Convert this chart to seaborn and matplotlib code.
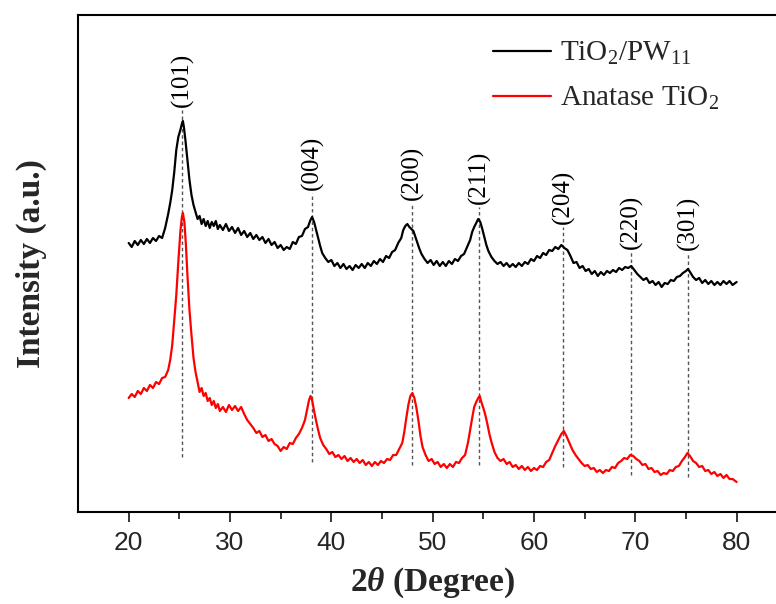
import numpy as np
import pandas as pd
import matplotlib
matplotlib.use("Agg")
import matplotlib.pyplot as plt
import seaborn as sns

sns.set_theme(style="white")
plt.rcParams['font.family'] = ['Liberation Serif', 'DejaVu Serif']
plt.rcParams['mathtext.fontset'] = 'custom'
plt.rcParams['mathtext.rm'] = 'Liberation Serif'
plt.rcParams['mathtext.it'] = 'Liberation Serif:italic'
plt.rcParams['mathtext.bf'] = 'Liberation Serif:bold'
plt.rcParams['mathtext.bfit'] = 'Liberation Serif:bold:italic'

# ---- data (intensity in arbitrary units, offset stacked) ----
BASE = 512
theta_pw = [20.0, 20.3, 20.6, 20.9, 21.2, 21.5, 21.8, 22.1, 22.4, 22.7, 23.0, 23.3, 23.6, 23.9, 24.1, 24.3, 24.5, 24.7, 24.9, 25.1,
            25.25, 25.35, 25.45, 25.6, 25.8, 26.0, 26.2, 26.4, 26.6, 26.8, 27.0, 27.2, 27.4, 27.6, 27.8, 28.0, 28.2, 28.4, 28.6, 28.8,
            29.0, 29.3, 29.6, 29.9, 30.2, 30.5, 30.8, 31.1, 31.4, 31.7, 32.0, 32.3, 32.6, 32.9, 33.2, 33.5, 33.8, 34.1, 34.4, 34.7,
            35.0, 35.3, 35.6, 35.9, 36.2, 36.5, 36.8, 37.1, 37.4, 37.7, 37.9, 38.1, 38.3, 38.5, 38.7, 38.9, 39.1, 39.4, 39.7, 40.0,
            40.3, 40.6, 40.9, 41.2, 41.5, 41.8, 42.1, 42.4, 42.7, 43.0, 43.3, 43.6, 43.9, 44.2, 44.5, 44.8, 45.1, 45.4, 45.7, 46.0,
            46.3, 46.6, 46.9, 47.1, 47.3, 47.5, 47.7, 47.9, 48.1, 48.3, 48.5, 48.7, 48.9, 49.2, 49.5, 49.8, 50.1, 50.4, 50.7, 51.0,
            51.3, 51.6, 51.9, 52.2, 52.5, 52.8, 53.1, 53.4, 53.7, 53.9, 54.1, 54.3, 54.5, 54.7, 54.9, 55.1, 55.3, 55.5, 55.8, 56.1,
            56.4, 56.7, 57.0, 57.3, 57.6, 57.9, 58.2, 58.5, 58.8, 59.1, 59.4, 59.7, 60.0, 60.3, 60.6, 60.9, 61.2, 61.5, 61.8, 62.1,
            62.4, 62.7, 63.0, 63.3, 63.6, 63.9, 64.2, 64.5, 64.8, 65.1, 65.4, 65.7, 66.0, 66.3, 66.6, 66.9, 67.2, 67.5, 67.8, 68.1,
            68.4, 68.7, 69.0, 69.3, 69.6, 69.9, 70.2, 70.5, 70.8, 71.1, 71.4, 71.7, 72.0, 72.3, 72.6, 72.9, 73.2, 73.5, 73.8, 74.1,
            74.4, 74.7, 75.0, 75.2, 75.4, 75.7, 76.0, 76.3, 76.6, 76.9, 77.2, 77.5, 77.8, 78.1, 78.4, 78.7, 79.0, 79.3, 79.6, 80.0]
depth_pw = [243, 247, 241, 245, 240, 244, 239, 243, 238, 241, 236, 238, 228, 214, 203, 190, 172, 150, 137, 130,
            124, 121, 127, 140, 160, 180, 195, 205, 212, 219, 216, 224, 219, 226, 221, 228, 222, 226, 221, 229,
            225, 230, 224, 231, 227, 233, 228, 235, 231, 237, 233, 239, 235, 240, 237, 243, 239, 245, 242, 248,
            245, 250, 247, 249, 242, 244, 237, 236, 229, 227, 221, 217, 222, 230, 238, 246, 253, 258, 262, 260,
            266, 263, 268, 264, 269, 266, 270, 265, 268, 264, 268, 263, 266, 261, 264, 259, 262, 256, 258, 252,
            250, 243, 238, 230, 226, 224, 227, 229, 231, 237, 243, 249, 254, 259, 263, 260, 265, 261, 266, 262,
            266, 261, 264, 259, 261, 256, 254, 247, 240, 232, 227, 223, 219, 222, 229, 237, 245, 251, 257, 261,
            264, 262, 266, 263, 267, 264, 267, 263, 266, 262, 264, 259, 261, 256, 258, 253, 255, 250, 251, 247,
            249, 245, 248, 250, 256, 263, 262, 268, 266, 271, 269, 274, 271, 276, 272, 275, 271, 273, 270, 272,
            268, 270, 267, 268, 266, 270, 274, 277, 280, 278, 283, 281, 285, 282, 287, 283, 284, 280, 281, 277,
            276, 273, 271, 269, 272, 277, 280, 278, 283, 280, 284, 281, 285, 282, 285, 281, 284, 281, 285, 282]

theta_an = [20.0, 20.3, 20.6, 20.9, 21.2, 21.5, 21.8, 22.1, 22.4, 22.7, 23.0, 23.3, 23.6, 23.9, 24.1, 24.3, 24.5, 24.7, 24.9, 25.1,
            25.25, 25.35, 25.5, 25.65, 25.8, 26.0, 26.2, 26.4, 26.6, 26.8, 27.0, 27.2, 27.4, 27.6, 27.8, 28.0, 28.2, 28.4, 28.6, 28.8,
            29.0, 29.3, 29.6, 29.9, 30.2, 30.5, 30.8, 31.1, 31.4, 31.7, 32.0, 32.3, 32.6, 32.9, 33.2, 33.5, 33.8, 34.1, 34.4, 34.7,
            35.0, 35.3, 35.6, 35.9, 36.2, 36.5, 36.8, 37.1, 37.4, 37.6, 37.8, 37.95, 38.1, 38.3, 38.5, 38.7, 38.9, 39.2, 39.5, 39.8,
            40.1, 40.4, 40.7, 41.0, 41.3, 41.6, 41.9, 42.2, 42.5, 42.8, 43.1, 43.4, 43.7, 44.0, 44.3, 44.6, 44.9, 45.2, 45.5, 45.8,
            46.1, 46.4, 46.7, 47.0, 47.2, 47.4, 47.6, 47.8, 48.0, 48.2, 48.4, 48.6, 48.8, 49.0, 49.3, 49.6, 49.9, 50.2, 50.5, 50.8,
            51.1, 51.4, 51.7, 52.0, 52.3, 52.6, 52.9, 53.2, 53.5, 53.7, 53.9, 54.1, 54.3, 54.5, 54.65, 54.8, 55.0, 55.2, 55.4, 55.6,
            55.8, 56.1, 56.4, 56.7, 57.0, 57.3, 57.6, 57.9, 58.2, 58.5, 58.8, 59.1, 59.4, 59.7, 60.0, 60.3, 60.6, 60.9, 61.2, 61.5,
            61.8, 62.1, 62.4, 62.7, 62.95, 63.2, 63.5, 63.8, 64.1, 64.4, 64.7, 65.0, 65.3, 65.6, 65.9, 66.2, 66.5, 66.8, 67.1, 67.4,
            67.7, 68.0, 68.3, 68.6, 68.9, 69.2, 69.5, 69.8, 70.1, 70.4, 70.7, 71.0, 71.3, 71.6, 71.9, 72.2, 72.5, 72.8, 73.1, 73.4,
            73.7, 74.0, 74.3, 74.6, 74.9, 75.15, 75.4, 75.7, 76.0, 76.3, 76.6, 76.9, 77.2, 77.5, 77.8, 78.1, 78.4, 78.7, 79.0, 79.3,
            79.6, 80.0]
depth_an = [398, 394, 397, 391, 394, 388, 391, 385, 388, 382, 384, 378, 377, 370, 360, 345, 320, 295, 262, 232,
            217, 213, 222, 245, 275, 310, 335, 358, 372, 382, 392, 388, 396, 393, 401, 398, 405, 401, 408, 404,
            411, 407, 412, 405, 410, 406, 411, 407, 414, 420, 424, 428, 433, 431, 437, 435, 441, 439, 444, 446,
            451, 447, 449, 443, 444, 438, 434, 428, 420, 410, 400, 396, 400, 411, 421, 430, 438, 445, 449, 454,
            452, 457, 455, 459, 456, 461, 458, 462, 459, 463, 460, 465, 462, 466, 462, 465, 461, 463, 459, 460,
            455, 455, 449, 443, 432, 418, 405, 396, 393, 398, 408, 421, 436, 447, 455, 461, 459, 464, 462, 467,
            464, 468, 464, 467, 462, 463, 458, 455, 442, 430, 418, 407, 402, 398, 396, 402, 408, 415, 424, 434,
            442, 452, 458, 461, 459, 464, 462, 467, 465, 469, 466, 470, 467, 471, 468, 470, 466, 467, 462, 460,
            453, 446, 440, 434, 431, 436, 443, 450, 455, 459, 463, 466, 465, 469, 468, 472, 470, 473, 470, 471,
            467, 468, 463, 461, 458, 459, 455, 456, 459, 461, 465, 464, 469, 468, 472, 471, 475, 473, 474, 470,
            471, 467, 466, 461, 457, 453, 456, 461, 463, 467, 466, 471, 470, 474, 472, 476, 474, 478, 475, 479,
            479, 482]

peak_pos = [25.3, 38.1, 48.0, 54.6, 62.9, 69.6, 75.2]
peak_hkl = ["(101)", "(004)", "(200)", "(211)", "(204)", "(220)", "(301)"]
dash_top = [110, 193, 203, 207, 227, 252, 253]
dash_bottom = [457, 462, 465, 465, 467, 475, 477]

labels = [r"TiO$_2$/PW$_{11}$", r"Anatase TiO$_2$"]

df = pd.concat([
    pd.DataFrame({"theta": theta_pw, "I": BASE - np.array(depth_pw), "sample": labels[0]}),
    pd.DataFrame({"theta": theta_an, "I": BASE - np.array(depth_an), "sample": labels[1]}),
])

fig = plt.figure(figsize=(7.76, 6.04), dpi=100)
ax = fig.add_axes([78/776, (604-512)/604, 709.3/776, 497/604])

sns.lineplot(data=df, x="theta", y="I", hue="sample", palette=["black", "#ff0000"],
             sort=False, estimator=None, linewidth=1.6, ax=ax)

for x, lab, t, b in zip(peak_pos, peak_hkl, dash_top, dash_bottom):
    ax.plot([x, x], [BASE - b, BASE - t], color="#555555", lw=1.0,
            linestyle=(0, (2.5, 2)), zorder=1)
    ax.text(x, BASE - t + 3, lab, rotation=90, ha="center", va="bottom",
            fontsize=18, color="black")

ax.set_xlim(15, 85)
ax.set_ylim(0, 497)
ax.set_xticks([20, 30, 40, 50, 60, 70, 80])
ax.set_xticks([25, 35, 45, 55, 65, 75], minor=True)
ax.set_yticks([])
ax.tick_params(axis="x", which="major", direction="out", length=7, width=1.3,
               bottom=True, labelsize=19, pad=7)
ax.tick_params(axis="x", which="minor", direction="out", length=5, width=1.3, bottom=True)
for lab in ax.get_xticklabels():
    lab.set_fontfamily("Liberation Sans")
for s in ax.spines.values():
    s.set_linewidth(1.5)
    s.set_color("black")

ax.set_xlabel(r"$\mathbf{2}\mathbfit{\theta}$ (Degree)", fontsize=24, fontweight="bold", labelpad=7)
ax.set_ylabel("Intensity (a.u.)", fontsize=24, fontweight="bold", labelpad=22)

leg = ax.legend(loc="upper left", bbox_to_anchor=(493/776, 1 - 40/604),
                bbox_transform=fig.transFigure, frameon=False, fontsize=21,
                handlelength=2.0, handletextpad=0.3, labelspacing=0.62,
                borderpad=0, borderaxespad=0)
for line in leg.get_lines():
    line.set_linewidth(1.6)

fig.savefig("out.png", dpi=100)
